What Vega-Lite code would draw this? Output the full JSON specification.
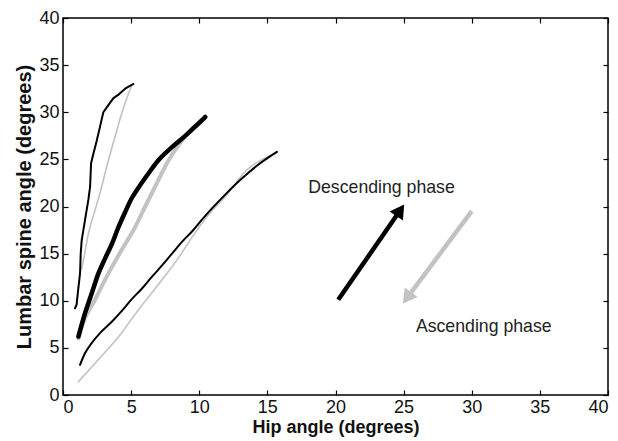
{
  "$schema": "https://vega.github.io/schema/vega-lite/v6.json",
  "width": 545,
  "height": 377,
  "autosize": {"type": "none"},
  "padding": {"left": 63, "top": 18, "right": 10, "bottom": 46},
  "background": "white",
  "config": {
    "font": "Liberation Sans",
    "view": {"stroke": "#000", "strokeWidth": 1.5},
    "axis": {
      "domain": false,
      "grid": false,
      "tickColor": "#000",
      "tickSize": -5,
      "tickWidth": 1.2,
      "labelFont": "Liberation Sans",
      "labelFontSize": 18,
      "labelColor": "#111",
      "titleFont": "Liberation Sans",
      "titleFontSize": 18,
      "titleFontWeight": "bold",
      "titleColor": "#111"
    }
  },
  "datasets": {
    "curves": [
      {"trial": "A", "phase": "Descending", "i": 1, "hip": 0.88, "lumbar": 9.2},
      {"trial": "A", "phase": "Descending", "i": 2, "hip": 1.0, "lumbar": 9.6},
      {"trial": "A", "phase": "Descending", "i": 3, "hip": 1.1, "lumbar": 11.0},
      {"trial": "A", "phase": "Descending", "i": 4, "hip": 1.25, "lumbar": 12.9},
      {"trial": "A", "phase": "Descending", "i": 5, "hip": 1.3, "lumbar": 15.0},
      {"trial": "A", "phase": "Descending", "i": 6, "hip": 1.37, "lumbar": 16.4},
      {"trial": "A", "phase": "Descending", "i": 7, "hip": 1.62, "lumbar": 18.6},
      {"trial": "A", "phase": "Descending", "i": 8, "hip": 1.86, "lumbar": 20.7},
      {"trial": "A", "phase": "Descending", "i": 9, "hip": 1.99, "lumbar": 22.1},
      {"trial": "A", "phase": "Descending", "i": 10, "hip": 2.06, "lumbar": 24.6},
      {"trial": "A", "phase": "Descending", "i": 11, "hip": 2.23, "lumbar": 25.6},
      {"trial": "A", "phase": "Descending", "i": 12, "hip": 2.48, "lumbar": 27.0},
      {"trial": "A", "phase": "Descending", "i": 13, "hip": 2.72, "lumbar": 28.5},
      {"trial": "A", "phase": "Descending", "i": 14, "hip": 2.96, "lumbar": 30.0},
      {"trial": "A", "phase": "Descending", "i": 15, "hip": 3.33, "lumbar": 30.75},
      {"trial": "A", "phase": "Descending", "i": 16, "hip": 3.7, "lumbar": 31.5},
      {"trial": "A", "phase": "Descending", "i": 17, "hip": 4.1, "lumbar": 31.9},
      {"trial": "A", "phase": "Descending", "i": 18, "hip": 4.56, "lumbar": 32.5},
      {"trial": "A", "phase": "Descending", "i": 19, "hip": 5.17, "lumbar": 33.0},
      {"trial": "A", "phase": "Ascending", "i": 1, "hip": 5.05, "lumbar": 32.9},
      {"trial": "A", "phase": "Ascending", "i": 2, "hip": 4.31, "lumbar": 29.9},
      {"trial": "A", "phase": "Ascending", "i": 3, "hip": 3.82, "lumbar": 27.4},
      {"trial": "A", "phase": "Ascending", "i": 4, "hip": 3.33, "lumbar": 24.9},
      {"trial": "A", "phase": "Ascending", "i": 5, "hip": 2.84, "lumbar": 22.1},
      {"trial": "A", "phase": "Ascending", "i": 6, "hip": 2.35, "lumbar": 19.6},
      {"trial": "A", "phase": "Ascending", "i": 7, "hip": 1.86, "lumbar": 17.1},
      {"trial": "A", "phase": "Ascending", "i": 8, "hip": 1.5, "lumbar": 14.3},
      {"trial": "A", "phase": "Ascending", "i": 9, "hip": 1.35, "lumbar": 13.3},
      {"trial": "B", "phase": "Descending", "i": 1, "hip": 1.13, "lumbar": 6.2},
      {"trial": "B", "phase": "Descending", "i": 2, "hip": 1.62, "lumbar": 8.7},
      {"trial": "B", "phase": "Descending", "i": 3, "hip": 2.11, "lumbar": 10.8},
      {"trial": "B", "phase": "Descending", "i": 4, "hip": 2.6, "lumbar": 12.9},
      {"trial": "B", "phase": "Descending", "i": 5, "hip": 3.09, "lumbar": 14.5},
      {"trial": "B", "phase": "Descending", "i": 6, "hip": 3.58, "lumbar": 16.0},
      {"trial": "B", "phase": "Descending", "i": 7, "hip": 4.07, "lumbar": 17.8},
      {"trial": "B", "phase": "Descending", "i": 8, "hip": 4.56, "lumbar": 19.4},
      {"trial": "B", "phase": "Descending", "i": 9, "hip": 5.05, "lumbar": 20.9},
      {"trial": "B", "phase": "Descending", "i": 10, "hip": 5.54, "lumbar": 22.0},
      {"trial": "B", "phase": "Descending", "i": 11, "hip": 6.27, "lumbar": 23.5},
      {"trial": "B", "phase": "Descending", "i": 12, "hip": 7.0, "lumbar": 24.9},
      {"trial": "B", "phase": "Descending", "i": 13, "hip": 8.0, "lumbar": 26.3},
      {"trial": "B", "phase": "Descending", "i": 14, "hip": 8.97, "lumbar": 27.5},
      {"trial": "B", "phase": "Descending", "i": 15, "hip": 9.8, "lumbar": 28.6},
      {"trial": "B", "phase": "Descending", "i": 16, "hip": 10.44, "lumbar": 29.5},
      {"trial": "B", "phase": "Ascending", "i": 1, "hip": 10.3, "lumbar": 29.3},
      {"trial": "B", "phase": "Ascending", "i": 2, "hip": 9.5, "lumbar": 28.3},
      {"trial": "B", "phase": "Ascending", "i": 3, "hip": 8.73, "lumbar": 27.0},
      {"trial": "B", "phase": "Ascending", "i": 4, "hip": 7.75, "lumbar": 24.9},
      {"trial": "B", "phase": "Ascending", "i": 5, "hip": 6.76, "lumbar": 22.1},
      {"trial": "B", "phase": "Ascending", "i": 6, "hip": 6.03, "lumbar": 20.0},
      {"trial": "B", "phase": "Ascending", "i": 7, "hip": 5.29, "lumbar": 17.8},
      {"trial": "B", "phase": "Ascending", "i": 8, "hip": 4.31, "lumbar": 15.4},
      {"trial": "B", "phase": "Ascending", "i": 9, "hip": 3.33, "lumbar": 12.9},
      {"trial": "B", "phase": "Ascending", "i": 10, "hip": 2.35, "lumbar": 10.1},
      {"trial": "B", "phase": "Ascending", "i": 11, "hip": 1.37, "lumbar": 7.2},
      {"trial": "B", "phase": "Ascending", "i": 12, "hip": 1.15, "lumbar": 6.0},
      {"trial": "C", "phase": "Descending", "i": 1, "hip": 1.25, "lumbar": 3.2},
      {"trial": "C", "phase": "Descending", "i": 2, "hip": 1.6, "lumbar": 4.4},
      {"trial": "C", "phase": "Descending", "i": 3, "hip": 2.1, "lumbar": 5.5},
      {"trial": "C", "phase": "Descending", "i": 4, "hip": 2.8, "lumbar": 6.7},
      {"trial": "C", "phase": "Descending", "i": 5, "hip": 3.6, "lumbar": 7.8},
      {"trial": "C", "phase": "Descending", "i": 6, "hip": 4.3, "lumbar": 8.9},
      {"trial": "C", "phase": "Descending", "i": 7, "hip": 5.0, "lumbar": 10.1},
      {"trial": "C", "phase": "Descending", "i": 8, "hip": 5.8, "lumbar": 11.3},
      {"trial": "C", "phase": "Descending", "i": 9, "hip": 6.5, "lumbar": 12.5},
      {"trial": "C", "phase": "Descending", "i": 10, "hip": 7.3, "lumbar": 13.8},
      {"trial": "C", "phase": "Descending", "i": 11, "hip": 8.0, "lumbar": 15.0},
      {"trial": "C", "phase": "Descending", "i": 12, "hip": 8.7, "lumbar": 16.2},
      {"trial": "C", "phase": "Descending", "i": 13, "hip": 9.5, "lumbar": 17.4},
      {"trial": "C", "phase": "Descending", "i": 14, "hip": 10.2, "lumbar": 18.6},
      {"trial": "C", "phase": "Descending", "i": 15, "hip": 11.0, "lumbar": 19.9},
      {"trial": "C", "phase": "Descending", "i": 16, "hip": 11.8, "lumbar": 21.1},
      {"trial": "C", "phase": "Descending", "i": 17, "hip": 13.0, "lumbar": 22.8},
      {"trial": "C", "phase": "Descending", "i": 18, "hip": 14.2, "lumbar": 24.3},
      {"trial": "C", "phase": "Descending", "i": 19, "hip": 15.7, "lumbar": 25.8},
      {"trial": "C", "phase": "Ascending", "i": 1, "hip": 15.5, "lumbar": 25.6},
      {"trial": "C", "phase": "Ascending", "i": 2, "hip": 14.5, "lumbar": 24.9},
      {"trial": "C", "phase": "Ascending", "i": 3, "hip": 13.5, "lumbar": 23.9},
      {"trial": "C", "phase": "Ascending", "i": 4, "hip": 12.0, "lumbar": 21.2},
      {"trial": "C", "phase": "Ascending", "i": 5, "hip": 10.6, "lumbar": 19.0},
      {"trial": "C", "phase": "Ascending", "i": 6, "hip": 9.5, "lumbar": 16.8},
      {"trial": "C", "phase": "Ascending", "i": 7, "hip": 8.5, "lumbar": 14.6},
      {"trial": "C", "phase": "Ascending", "i": 8, "hip": 7.26, "lumbar": 12.2},
      {"trial": "C", "phase": "Ascending", "i": 9, "hip": 6.0, "lumbar": 9.9},
      {"trial": "C", "phase": "Ascending", "i": 10, "hip": 5.0, "lumbar": 8.0},
      {"trial": "C", "phase": "Ascending", "i": 11, "hip": 4.31, "lumbar": 6.6},
      {"trial": "C", "phase": "Ascending", "i": 12, "hip": 3.0, "lumbar": 4.4},
      {"trial": "C", "phase": "Ascending", "i": 13, "hip": 2.0, "lumbar": 2.8},
      {"trial": "C", "phase": "Ascending", "i": 14, "hip": 1.13, "lumbar": 1.4}
    ],
    "arrows": [
      {"phase": "Descending", "hip": 20.2, "lumbar": 10.1, "hip2": 24.75, "lumbar2": 19.6},
      {"phase": "Ascending", "hip": 30.0, "lumbar": 19.5, "hip2": 25.25, "lumbar2": 10.3}
    ],
    "labels": [
      {"phase": "Descending", "text": "Descending phase", "hip": 18.0, "lumbar": 21.95},
      {"phase": "Ascending", "text": "Ascending phase", "hip": 25.9, "lumbar": 7.2}
    ]
  },
  "resolve": {"axis": {"x": "independent", "y": "independent"}},
  "layer": [
    {
      "data": {"name": "curves"},
      "transform": [{"filter": "datum.phase === 'Ascending' && datum.trial !== 'B'"}],
      "mark": {"type": "line", "color": "#c2c2c2", "strokeWidth": 1.6, "strokeCap": "round", "strokeJoin": "round", "interpolate": "monotone"},
      "encoding": {
        "x": {"field": "hip", "type": "quantitative", "scale": {"domain": [0, 40], "nice": false},
              "axis": {"orient": "bottom", "values": [0, 5, 10, 15, 20, 25, 30, 35, 40], "title": "Hip angle (degrees)", "labelPadding": 8, "titlePadding": 2}},
        "y": {"field": "lumbar", "type": "quantitative", "scale": {"domain": [0, 40], "nice": false},
              "axis": {"orient": "left", "values": [0, 5, 10, 15, 20, 25, 30, 35, 40], "title": "Lumbar spine angle (degrees)", "titleFontSize": 20, "labelPadding": 9, "titlePadding": 4}},
        "detail": {"field": "trial"},
        "order": {"field": "i", "type": "quantitative"}
      }
    },
    {
      "data": {"name": "curves"},
      "transform": [{"filter": "datum.phase === 'Ascending' && datum.trial === 'B'"}],
      "mark": {"type": "line", "color": "#c2c2c2", "strokeWidth": 4, "strokeCap": "round", "strokeJoin": "round", "interpolate": "monotone"},
      "encoding": {
        "x": {"field": "hip", "type": "quantitative", "axis": null},
        "y": {"field": "lumbar", "type": "quantitative", "axis": null},
        "order": {"field": "i", "type": "quantitative"}
      }
    },
    {
      "data": {"name": "curves"},
      "transform": [{"filter": "datum.phase === 'Descending' && datum.trial === 'A'"}],
      "mark": {"type": "line", "color": "#000", "strokeWidth": 2, "strokeCap": "round", "strokeJoin": "round"},
      "encoding": {
        "x": {"field": "hip", "type": "quantitative", "axis": null},
        "y": {"field": "lumbar", "type": "quantitative", "axis": null},
        "order": {"field": "i", "type": "quantitative"}
      }
    },
    {
      "data": {"name": "curves"},
      "transform": [{"filter": "datum.phase === 'Descending' && datum.trial === 'C'"}],
      "mark": {"type": "line", "color": "#000", "strokeWidth": 2, "strokeCap": "round", "strokeJoin": "round", "interpolate": "monotone"},
      "encoding": {
        "x": {"field": "hip", "type": "quantitative", "axis": null},
        "y": {"field": "lumbar", "type": "quantitative", "axis": null},
        "order": {"field": "i", "type": "quantitative"}
      }
    },
    {
      "data": {"name": "curves"},
      "transform": [{"filter": "datum.phase === 'Descending' && datum.trial === 'B'"}],
      "mark": {"type": "line", "color": "#000", "strokeWidth": 4.5, "strokeCap": "round", "strokeJoin": "round", "interpolate": "monotone"},
      "encoding": {
        "x": {"field": "hip", "type": "quantitative", "axis": null},
        "y": {"field": "lumbar", "type": "quantitative", "axis": null},
        "order": {"field": "i", "type": "quantitative"}
      }
    },
    {
      "data": {"name": "arrows"},
      "mark": {"type": "rule", "strokeWidth": 4.5},
      "encoding": {
        "x": {"field": "hip", "type": "quantitative", "axis": null},
        "y": {"field": "lumbar", "type": "quantitative", "axis": null},
        "x2": {"field": "hip2"},
        "y2": {"field": "lumbar2"},
        "color": {"field": "phase", "type": "nominal", "scale": {"domain": ["Descending", "Ascending"], "range": ["#000000", "#c2c2c2"]}, "legend": null}
      }
    },
    {
      "data": {"name": "arrows"},
      "transform": [{"filter": "datum.phase === 'Descending'"}],
      "mark": {"type": "point", "shape": "triangle-up", "filled": true, "size": 260, "angle": 34.4, "color": "#000", "opacity": 1},
      "encoding": {
        "x": {"field": "hip2", "type": "quantitative", "axis": null},
        "y": {"field": "lumbar2", "type": "quantitative", "axis": null}
      }
    },
    {
      "data": {"name": "arrows"},
      "transform": [{"filter": "datum.phase === 'Ascending'"}],
      "mark": {"type": "point", "shape": "triangle-up", "filled": true, "size": 260, "angle": 216.5, "color": "#c2c2c2", "opacity": 1},
      "encoding": {
        "x": {"field": "hip2", "type": "quantitative", "axis": null},
        "y": {"field": "lumbar2", "type": "quantitative", "axis": null}
      }
    },
    {
      "data": {"name": "labels"},
      "mark": {"type": "text", "align": "left", "baseline": "middle", "fontSize": 17.7, "color": "#222", "font": "Liberation Sans"},
      "encoding": {
        "x": {"field": "hip", "type": "quantitative",
              "axis": {"orient": "top", "values": [0, 5, 10, 15, 20, 25, 30, 35, 40], "labels": false, "title": null}},
        "y": {"field": "lumbar", "type": "quantitative",
              "axis": {"orient": "right", "values": [0, 5, 10, 15, 20, 25, 30, 35, 40], "labels": false, "title": null}},
        "text": {"field": "text"}
      }
    }
  ]
}
